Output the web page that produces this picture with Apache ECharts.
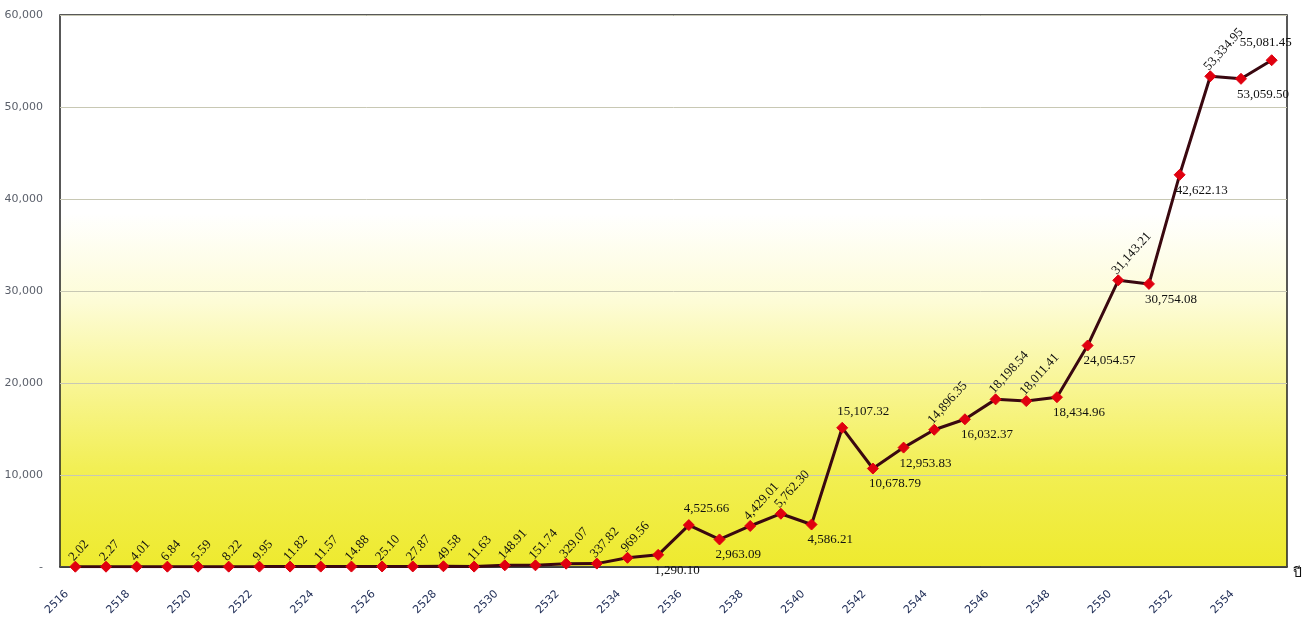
<!DOCTYPE html>
<html>
<head>
<meta charset="utf-8">
<script src="https://cdn.jsdelivr.net/npm/echarts@6/dist/echarts.min.js"></script>
<style>
html,body{margin:0;padding:0;background:#fff;}
#chart{width:1306px;height:618px;}
</style>
</head>
<body>
<div id="chart"></div>
<script>
// Years (Thai Buddhist Era)
const years = ['2516','2517','2518','2519','2520','2521','2522','2523','2524','2525',
  '2526','2527','2528','2529','2530','2531','2532','2533','2534','2535',
  '2536','2537','2538','2539','2540','2541','2542','2543','2544','2545',
  '2546','2547','2548','2549','2550','2551','2552','2553','2554','2555'];
// Values
const values = [2.02, 2.27, 4.01, 6.84, 5.59, 8.22, 9.95, 11.82, 11.57, 14.88,
  25.10, 27.87, 49.58, 11.63, 148.91, 151.74, 329.07, 337.82, 969.56, 1290.10,
  4525.66, 2963.09, 4429.01, 5762.30, 4586.21, 15107.32, 10678.79, 12953.83, 14896.35, 16032.37,
  18198.54, 18011.41, 18434.96, 24054.57, 31143.21, 30754.08, 42622.13, 53334.95, 53059.50, 55081.45];
// Y axis ticks
const yTicks = [0, 10000, 20000, 30000, 40000, 50000, 60000];
// label placement mode per point
const labelMode = ['rot','rot','rot','rot','rot','rot','rot','rot','rot','rot',
  'rot','rot','rot','rot','rot','rot','rot','rot','rot','below',
  'above','below','rot','rot','below','above','below','below','rot','below',
  'rot','rot','below','below','rot','below','below','rot','below','aboveEnd'];

const fmt = v => v.toLocaleString('en-US', {minimumFractionDigits: 2, maximumFractionDigits: 2});
const labelFont = {fontFamily: 'Liberation Serif', fontSize: 13, color: '#111'};

function labelFor(mode) {
  if (mode === 'rot') return Object.assign({show: true, position: 'top', distance: 6, rotate: 48, align: 'left', verticalAlign: 'middle', offset: [-6, 0]}, labelFont);
  if (mode === 'below') return Object.assign({show: true, position: 'bottom', distance: 3, align: 'left', offset: [-4, 0]}, labelFont);
  if (mode === 'above') return Object.assign({show: true, position: 'top', distance: 4, align: 'left', offset: [-5, 0]}, labelFont);
  return Object.assign({show: true, position: 'top', distance: 5, align: 'center', offset: [-6, 0]}, labelFont);
}

const seriesData = values.map((v, i) => ({value: v, label: labelFor(labelMode[i])}));

const chart = echarts.init(document.getElementById('chart'));
chart.setOption({
  animation: false,
  backgroundColor: '#ffffff',
  grid: {
    left: 60, right: 19, top: 15, bottom: 51,
    show: true,
    borderColor: '#222', borderWidth: 1.5,
    backgroundColor: new echarts.graphic.LinearGradient(0, 0, 0, 1, [
      {offset: 0, color: '#ffffff'},
      {offset: 0.36, color: '#ffffff'},
      {offset: 0.52, color: '#fdfcd6'},
      {offset: 0.68, color: '#f8f590'},
      {offset: 0.82, color: '#f2ef55'},
      {offset: 1, color: '#eeea2e'}
    ])
  },
  xAxis: {
    type: 'category',
    data: years,
    boundaryGap: true,
    name: 'ปี',
    nameLocation: 'end',
    nameGap: 6,
    nameTextStyle: {fontFamily: 'Liberation Serif', fontSize: 14, color: '#111', verticalAlign: 'top', padding: [0, 0, 0, 0]},
    axisLine: {show: true, lineStyle: {color: '#222', width: 1.5}},
    axisTick: {show: false},
    axisLabel: {
      interval: 1, rotate: 45, margin: 17,
      fontFamily: 'DejaVu Sans', fontSize: 11, color: '#1d2b55',
      padding: [0, 12, 0, 0]
    },
    splitLine: {show: false}
  },
  yAxis: {
    type: 'value',
    min: yTicks[0], max: yTicks[yTicks.length - 1], interval: 10000,
    axisLine: {show: false},
    axisTick: {show: false},
    axisLabel: {
      margin: 17,
      fontFamily: 'DejaVu Sans', fontSize: 11, color: '#5a5f6a',
      formatter: v => v === 0 ? '-' : v.toLocaleString('en-US')
    },
    splitLine: {show: true, lineStyle: {color: '#c8c8b4', width: 1}}
  },
  series: [{
    type: 'line',
    data: seriesData,
    symbol: 'diamond',
    symbolSize: 11,
    lineStyle: {color: '#3a0810', width: 3},
    itemStyle: {color: '#e0000f', borderColor: '#e0000f'},
    label: {show: true, formatter: p => fmt(p.value)},
    z: 3
  }]
});
</script>
</body>
</html>
